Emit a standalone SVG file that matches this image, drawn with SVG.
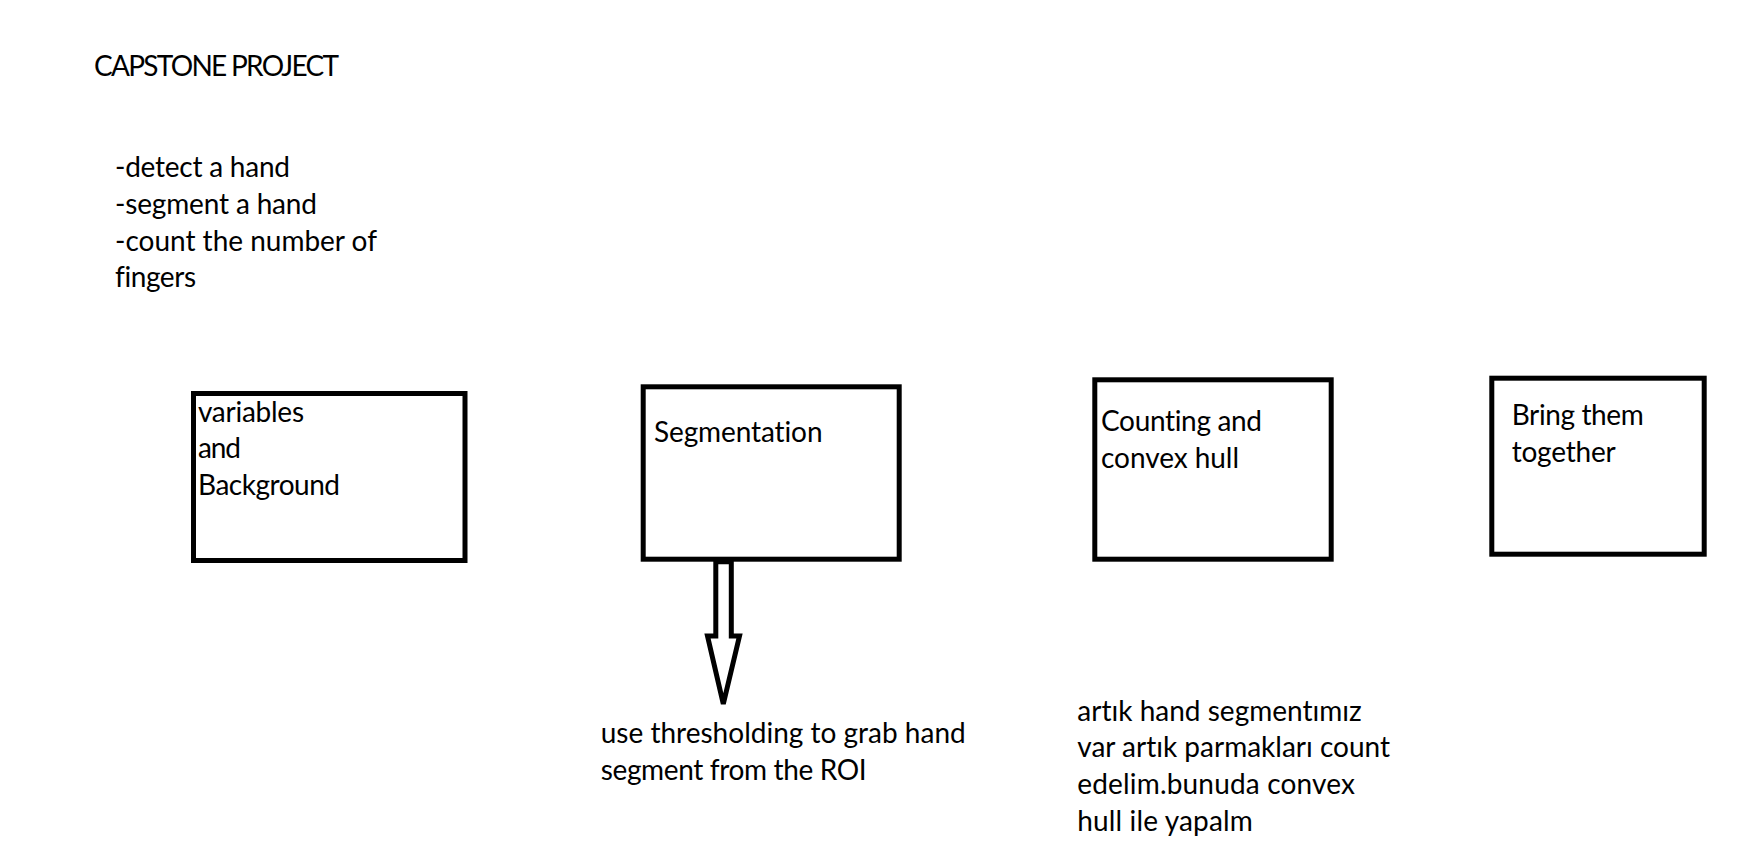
<svg xmlns="http://www.w3.org/2000/svg" width="1739" height="863" viewBox="0 0 1739 863">
<style>
text{font-family:Lato,"Open Sans","Liberation Sans",sans-serif;font-size:28px;fill:#000;font-variant-ligatures:none;font-feature-settings:"liga" 0}
.box{fill:#fff;stroke:#000;stroke-width:5}
.arrow{fill:#fff;stroke:#000;stroke-width:5;stroke-linejoin:miter}
</style>
<rect width="1739" height="863" fill="#fff"/>
<g id="title">
<text x="94" y="76" textLength="245" lengthAdjust="spacing">CAPSTONE PROJECT</text>
</g>
<g id="goals">
<text x="115" y="177" textLength="175" lengthAdjust="spacing">-detect a hand</text>
<text x="115" y="214" textLength="202" lengthAdjust="spacing">-segment a hand</text>
<text x="115" y="250.5" textLength="262" lengthAdjust="spacing">-count the number of</text>
<text x="115" y="287" textLength="81" lengthAdjust="spacing">fingers</text>
</g>
<g id="node-variables">
<rect class="box" x="193.5" y="393.5" width="271.5" height="167"/>
<text x="198" y="421.7" textLength="106" lengthAdjust="spacing">variables</text>
<text x="198" y="458.3" textLength="43" lengthAdjust="spacing">and</text>
<text x="198" y="495" textLength="142" lengthAdjust="spacing">Background</text>
</g>
<g id="node-segmentation">
<rect class="box" x="643.2" y="386.8" width="256" height="172.4"/>
<text x="654" y="441.7" textLength="168.5" lengthAdjust="spacing">Segmentation</text>
</g>
<g id="node-counting">
<rect class="box" x="1094.8" y="379.8" width="236.4" height="179.4"/>
<text x="1101" y="431" textLength="161" lengthAdjust="spacing">Counting and</text>
<text x="1101" y="467.7" textLength="138" lengthAdjust="spacing">convex hull</text>
</g>
<g id="node-together">
<rect class="box" x="1491.8" y="378.2" width="212.4" height="176"/>
<text x="1511.7" y="425" textLength="132" lengthAdjust="spacing">Bring them</text>
<text x="1511.7" y="461.5" textLength="104" lengthAdjust="spacing">together</text>
</g>
<g id="connectors">
<polygon class="arrow" points="715.8,561.7 715.8,636 707.5,636 723.3,704 739.5,636 731.3,636 731.3,561.7"/>
</g>
<g id="note-segmentation">
<text x="600.7" y="742.7" textLength="365" lengthAdjust="spacing">use thresholding to grab hand</text>
<text x="600.7" y="779.5" textLength="266" lengthAdjust="spacing">segment from the ROI</text>
</g>
<g id="note-counting">
<text x="1077.3" y="720.7" textLength="284.4" lengthAdjust="spacing">artık hand segmentımız</text>
<text x="1077.3" y="757.4" textLength="312.7" lengthAdjust="spacing">var artık parmakları count</text>
<text x="1077.3" y="794.1" textLength="277.7" lengthAdjust="spacing">edelim.bunuda convex</text>
<text x="1077.3" y="830.8" textLength="175.4" lengthAdjust="spacing">hull ile yapalm</text>
</g>
</svg>
